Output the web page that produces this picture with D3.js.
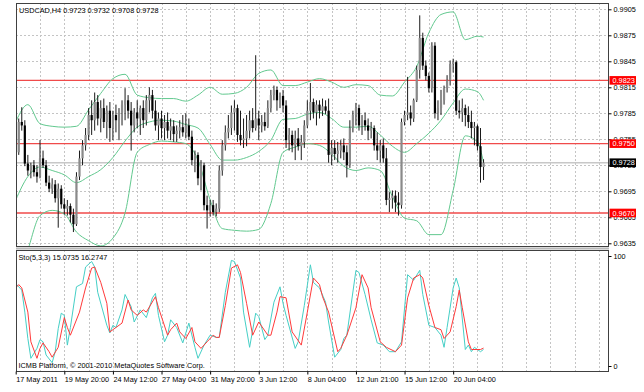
<!DOCTYPE html>
<html>
<head>
<meta charset="utf-8">
<script src="https://cdn.jsdelivr.net/npm/d3@7"></script>
<style>
body { margin: 0; background: #fff; }
svg text { font-family: "Liberation Sans", Arial, sans-serif; font-size: 7.3px; fill: #000; }
</style>
</head>
<body>
<div id="chart"></div>
<script>
// USDCAD H4 candles, one entry per bar
const openP = [
	0.9745,0.9740,0.9775,0.9771,0.9727,0.9719,0.9725,0.9717,0.9712,0.9733,
	0.9725,0.9705,0.9698,0.9703,0.9687,0.9698,0.9680,0.9675,0.9678,0.9668,
	0.9657,0.9712,0.9733,0.9748,0.9760,0.9783,0.9777,0.9798,0.9779,0.9791,
	0.9775,0.9788,0.9768,0.9783,0.9777,0.9786,0.9795,0.9800,0.9788,0.9771,
	0.9786,0.9779,0.9791,0.9777,0.9800,0.9806,0.9788,0.9771,0.9779,0.9768,
	0.9775,0.9765,0.9770,0.9761,0.9765,0.9769,0.9763,0.9771,0.9758,0.9731,
	0.9737,0.9710,0.9725,0.9679,0.9673,0.9679,0.9671,0.9675,0.9719,0.9748,
	0.9763,0.9768,0.9786,0.9791,0.9760,0.9754,0.9756,0.9765,0.9777,0.9768,
	0.9779,0.9771,0.9775,0.9770,0.9791,0.9806,0.9812,0.9800,0.9805,0.9794,
	0.9754,0.9760,0.9748,0.9756,0.9747,0.9752,0.9771,0.9788,0.9798,0.9786,
	0.9795,0.9788,0.9793,0.9788,0.9737,0.9745,0.9738,0.9742,0.9748,0.9740,
	0.9725,0.9768,0.9783,0.9791,0.9771,0.9777,0.9771,0.9765,0.9768,0.9748,
	0.9742,0.9748,0.9733,0.9685,0.9687,0.9690,0.9682,0.9679,0.9775,0.9783,
	0.9786,0.9779,0.9800,0.9835,0.9872,0.9840,0.9828,0.9814,0.9863,0.9785,
	0.9791,0.9800,0.9814,0.9823,0.9842,0.9844,0.9788,0.9786,0.9791,0.9783,
	0.9775,0.9768,0.9770,0.9747,0.9723
]
const highP = [
	0.9756,0.9779,0.9792,0.9777,0.9737,0.9728,0.9731,0.9725,0.9754,0.9742,
	0.9731,0.9713,0.9710,0.9708,0.9704,0.9702,0.9687,0.9685,0.9681,0.9675,
	0.9717,0.9742,0.9754,0.9768,0.9791,0.9800,0.9809,0.9806,0.9800,0.9802,
	0.9794,0.9798,0.9788,0.9795,0.9791,0.9800,0.9814,0.9806,0.9798,0.9791,
	0.9800,0.9794,0.9800,0.9806,0.9815,0.9812,0.9800,0.9786,0.9788,0.9783,
	0.9786,0.9779,0.9777,0.9771,0.9777,0.9783,0.9785,0.9779,0.9765,0.9742,
	0.9740,0.9731,0.9728,0.9690,0.9685,0.9685,0.9681,0.9725,0.9754,0.9771,
	0.9783,0.9794,0.9800,0.9795,0.9788,0.9779,0.9783,0.9788,0.9791,0.9852,
	0.9788,0.9783,0.9786,0.9800,0.9812,0.9817,0.9816,0.9809,0.9812,0.9800,
	0.9768,0.9765,0.9765,0.9768,0.9760,0.9777,0.9800,0.9820,0.9802,0.9800,
	0.9800,0.9802,0.9800,0.9802,0.9754,0.9754,0.9752,0.9754,0.9756,0.9748,
	0.9777,0.9788,0.9797,0.9795,0.9783,0.9786,0.9779,0.9775,0.9771,0.9763,
	0.9754,0.9756,0.9745,0.9694,0.9696,0.9696,0.9694,0.9779,0.9788,0.9827,
	0.9794,0.9802,0.9840,0.9898,0.9878,0.9846,0.9832,0.9867,0.9867,0.9800,
	0.9812,0.9817,0.9829,0.9846,0.9848,0.9846,0.9800,0.9802,0.9795,0.9793,
	0.9788,0.9775,0.9772,0.9768,0.9732
]
const lowP = [
	0.9731,0.9737,0.9765,0.9724,0.9713,0.9710,0.9712,0.9705,0.9710,0.9722,
	0.9701,0.9694,0.9692,0.9682,0.9653,0.9675,0.9668,0.9667,0.9659,0.9648,
	0.9655,0.9708,0.9725,0.9742,0.9754,0.9760,0.9765,0.9771,0.9763,0.9768,
	0.9756,0.9752,0.9754,0.9763,0.9754,0.9771,0.9777,0.9779,0.9742,0.9763,
	0.9768,0.9760,0.9768,0.9771,0.9786,0.9779,0.9765,0.9754,0.9756,0.9754,
	0.9756,0.9754,0.9752,0.9752,0.9756,0.9758,0.9756,0.9754,0.9725,0.9717,
	0.9702,0.9696,0.9673,0.9652,0.9666,0.9667,0.9666,0.9671,0.9713,0.9742,
	0.9756,0.9760,0.9765,0.9752,0.9748,0.9745,0.9747,0.9756,0.9763,0.9765,
	0.9754,0.9763,0.9765,0.9768,0.9786,0.9800,0.9788,0.9791,0.9786,0.9745,
	0.9742,0.9740,0.9731,0.9742,0.9731,0.9745,0.9768,0.9777,0.9779,0.9771,
	0.9779,0.9782,0.9784,0.9728,0.9725,0.9731,0.9728,0.9733,0.9731,0.9711,
	0.9722,0.9763,0.9771,0.9765,0.9760,0.9765,0.9754,0.9756,0.9742,0.9731,
	0.9728,0.9728,0.9679,0.9671,0.9675,0.9671,0.9667,0.9675,0.9771,0.9777,
	0.9771,0.9775,0.9798,0.9825,0.9835,0.9823,0.9809,0.9809,0.9779,0.9777,
	0.9783,0.9795,0.9809,0.9817,0.9832,0.9783,0.9779,0.9775,0.9770,0.9768,
	0.9756,0.9748,0.9742,0.9705,0.9708
]
const closeP = [
	0.9740,0.9775,0.9771,0.9727,0.9719,0.9725,0.9717,0.9712,0.9733,0.9725,
	0.9705,0.9698,0.9703,0.9687,0.9698,0.9680,0.9675,0.9678,0.9668,0.9657,
	0.9712,0.9733,0.9748,0.9760,0.9783,0.9777,0.9798,0.9779,0.9791,0.9775,
	0.9788,0.9768,0.9783,0.9777,0.9786,0.9795,0.9800,0.9788,0.9771,0.9786,
	0.9779,0.9791,0.9777,0.9800,0.9806,0.9788,0.9771,0.9779,0.9768,0.9775,
	0.9765,0.9770,0.9761,0.9765,0.9769,0.9763,0.9771,0.9758,0.9731,0.9737,
	0.9710,0.9725,0.9679,0.9673,0.9679,0.9671,0.9675,0.9719,0.9748,0.9763,
	0.9768,0.9786,0.9791,0.9760,0.9754,0.9756,0.9765,0.9777,0.9768,0.9779,
	0.9771,0.9775,0.9770,0.9791,0.9806,0.9812,0.9800,0.9805,0.9794,0.9754,
	0.9760,0.9748,0.9756,0.9747,0.9752,0.9771,0.9788,0.9798,0.9786,0.9795,
	0.9788,0.9793,0.9788,0.9737,0.9745,0.9738,0.9742,0.9748,0.9740,0.9725,
	0.9768,0.9783,0.9791,0.9771,0.9777,0.9771,0.9765,0.9768,0.9748,0.9742,
	0.9748,0.9733,0.9685,0.9687,0.9690,0.9682,0.9679,0.9775,0.9783,0.9786,
	0.9779,0.9800,0.9835,0.9872,0.9840,0.9828,0.9814,0.9863,0.9785,0.9791,
	0.9800,0.9814,0.9823,0.9842,0.9844,0.9788,0.9786,0.9791,0.9783,0.9775,
	0.9768,0.9770,0.9747,0.9723,0.9728
]

// Bollinger bands, read every 4 bars
const bandBars = [0,4,8,12,16,20,24,28,32,36,40,44,48,52,56,60,64,68,72,76,80,84,88,92,96,100,104,108,112,116,120,124,128,132,136,140,144,148,152,154]
const bandUpper = [0.9775,0.9795,0.9773,0.9770,0.9769,0.9770,0.9789,0.9808,0.9825,0.9830,
	0.9806,0.9803,0.9802,0.9802,0.9799,0.9806,0.9815,0.9807,0.9808,0.9815,
	0.9831,0.9835,0.9817,0.9817,0.9821,0.9825,0.9821,0.9815,0.9818,0.9817,
	0.9806,0.9805,0.9821,0.9839,0.9878,0.9899,0.9902,0.9870,0.9874,0.9873]
const bandMid = [0.9685,0.9712,0.9723,0.9719,0.9714,0.9705,0.9712,0.9720,0.9734,0.9753,
	0.9769,0.9775,0.9777,0.9776,0.9772,0.9768,0.9749,0.9731,0.9731,0.9734,
	0.9741,0.9754,0.9778,0.9779,0.9784,0.9786,0.9779,0.9769,0.9769,0.9770,
	0.9760,0.9747,0.9740,0.9750,0.9762,0.9777,0.9797,0.9813,0.9810,0.9800]
const bandLower = [0.9581,0.9627,0.9667,0.9673,0.9669,0.9648,0.9638,0.9632,0.9641,0.9670,
	0.9740,0.9749,0.9753,0.9752,0.9750,0.9731,0.9685,0.9652,0.9650,0.9649,
	0.9651,0.9681,0.9740,0.9746,0.9750,0.9748,0.9738,0.9724,0.9719,0.9722,
	0.9719,0.9689,0.9664,0.9661,0.9645,0.9645,0.9696,0.9759,0.9752,0.9728]

// Stochastic(5,3,3): main and signal, read at their turning points
const kBars = [0,1,2,3,4,5,7,8,9,10,12,13,14,15,16,17,18,20,22,23,
	25,26,27,30,31,32,33,35,36,38,39,41,43,45,46,47,49,50,51,53,
	55,57,59,60,62,64,66,67,69,71,72,74,75,77,79,80,82,83,85,87,
	88,89,92,93,95,97,98,100,102,103,105,107,108,109,112,113,115,117,119,121,
	123,125,127,129,131,133,134,136,138,140,141,142,144,145,146,148,149,150,151,152,
	153,154]
const kVals = [75,72,69,49,25,7,16,24,22,10,3,13,34,48,46,19,35,72,75,90,
	95,90,67,37,30,37,35,51,65,54,40,51,44,62,66,46,22,28,42,35,
	21,39,17,7,19,28,26,26,67,96,95,80,49,17,48,45,24,28,58,72,
	57,46,16,22,55,92,76,71,58,40,8,15,25,28,87,85,65,42,21,19,
	13,13,22,83,78,87,65,37,35,28,17,35,71,80,71,15,19,13,17,15,
	13,15.07]
const dBars = [0,1,2,4,5,7,8,9,11,12,14,16,17,18,21,23,25,26,28,30,
	31,33,35,37,38,40,42,43,46,47,50,51,53,54,56,58,59,61,63,65,
	66,67,69,71,73,74,76,78,80,83,84,86,87,89,91,94,96,98,100,101,
	103,106,107,109,112,114,116,117,120,122,125,127,129,131,133,134,136,138,140,141,
	143,145,146,147,149,150,153,154]
const dVals = [71,74,71,49,22,7,16,21,13,8,17,44,35,28,49,71,89,90,76,57,
	31,35,39,60,51,46,51,49,63,53,28,33,39,31,25,35,22,16,22,28,
	26,26,55,89,92,85,57,28,40,28,28,49,63,62,31,19,49,80,74,63,
	49,13,16,28,53,83,71,53,22,17,13,19,62,80,83,80,55,35,33,25,
	31,54,69,53,22,15,15,16.27]

const priceTicks = [0.9905,0.9875,0.9845,0.9815,0.9785,0.9755,0.9725,0.9695,0.9665,0.9635]
const timeTickBars = [0,16,32,48,64,80,96,112,128,144]
const timeTickLabels = ["17 May 2011","19 May 20:00","24 May 12:00","27 May 04:00","31 May 20:00",
	"3 Jun 12:00","8 Jun 04:00","12 Jun 21:00","15 Jun 12:00","20 Jun 04:00"]
const levelLines = [0.9823, 0.9750, 0.9670]
const bidPrice = 0.9728

const width = 644, height = 392
const main = {left: 16, right: 608, top: 3, bottom: 246}
const sub = {top: 250, bottom: 371}

const svg = d3.select("#chart").append("svg")
	.attr("width", width)
	.attr("height", height)

const x = d3.scaleLinear().domain([0, 195]).range([15.7, 608.1])
const y = d3.scaleLinear().domain([0.9635, 0.9905]).range([243.3, 9.3])
const ys = d3.scaleLinear().domain([0, 100]).range([366, 256])

const defs = svg.append("defs")
defs.append("clipPath").attr("id", "clipMain").append("rect")
	.attr("x", main.left).attr("y", main.top)
	.attr("width", main.right - main.left).attr("height", main.bottom - main.top)
defs.append("clipPath").attr("id", "clipSub").append("rect")
	.attr("x", main.left).attr("y", sub.top)
	.attr("width", main.right - main.left).attr("height", sub.bottom - sub.top)

// grid
const gridBars = d3.range(8, 195, 8)
const grid = svg.append("g")
	.attr("stroke", "#c4c4c4")
	.attr("stroke-dasharray", "2,2")
	.attr("stroke-width", 1)
grid.selectAll(".vm").data(gridBars).join("line")
	.attr("x1", d => Math.round(x(d)) + 0.5).attr("x2", d => Math.round(x(d)) + 0.5)
	.attr("y1", main.top).attr("y2", main.bottom)
grid.selectAll(".vs").data(gridBars).join("line")
	.attr("class", "vs")
	.attr("x1", d => Math.round(x(d)) + 0.5).attr("x2", d => Math.round(x(d)) + 0.5)
	.attr("y1", sub.top).attr("y2", sub.bottom)
grid.selectAll(".h").data(priceTicks).join("line")
	.attr("class", "h")
	.attr("x1", main.left).attr("x2", main.right)
	.attr("y1", d => Math.round(y(d)) + 0.5).attr("y2", d => Math.round(y(d)) + 0.5)

const plot = svg.append("g").attr("clip-path", "url(#clipMain)")

// bid line and level lines
plot.append("line")
	.attr("x1", main.left).attr("x2", main.right)
	.attr("y1", y(bidPrice)).attr("y2", y(bidPrice))
	.attr("stroke", "#c8c8c8").attr("stroke-width", 1.5)

plot.selectAll(".level").data(levelLines).join("line")
	.attr("class", "level")
	.attr("x1", main.left).attr("x2", main.right)
	.attr("y1", d => y(d)).attr("y2", d => y(d))
	.attr("stroke", "#f04a4a").attr("stroke-width", 1.4)

// bollinger bands
const bandLine = values => d3.line()
	.x((d, i) => x(d))
	.y((d, i) => y(values[i]))
	.curve(d3.curveMonotoneX)(bandBars)

plot.append("g")
	.attr("fill", "none")
	.attr("stroke", "#62c98f")
	.attr("stroke-width", 1)
	.selectAll("path")
	.data([bandUpper, bandMid, bandLower])
	.join("path")
	.attr("d", d => bandLine(d))

// candles
const bars = d3.range(closeP.length)
const candles = plot.append("g")
candles.selectAll("line").data(bars).join("line")
	.attr("x1", i => x(i)).attr("x2", i => x(i))
	.attr("y1", i => y(highP[i])).attr("y2", i => y(lowP[i]))
	.attr("stroke", "#1a1a1a").attr("stroke-width", 1)
candles.selectAll("rect").data(bars).join("rect")
	.attr("x", i => x(i) - 1.1)
	.attr("width", 2.2)
	.attr("y", i => y(Math.max(openP[i], closeP[i])))
	.attr("height", i => Math.max(1, Math.abs(y(openP[i]) - y(closeP[i]))))
	.attr("fill", i => closeP[i] >= openP[i] ? "#8a8a8a" : "#000")

// stochastic
const stoch = svg.append("g").attr("clip-path", "url(#clipSub)").attr("fill", "none")
const stochLine = (bs, vs) => d3.line()
	.x((d, i) => x(d))
	.y((d, i) => ys(vs[i]))(bs)
stoch.append("path")
	.attr("d", stochLine(kBars, kVals))
	.attr("stroke", "#45cfc6").attr("stroke-width", 1)
stoch.append("path")
	.attr("d", stochLine(dBars, dVals))
	.attr("stroke", "#ff3a3a").attr("stroke-width", 1)

// frames
const frame = svg.append("g").attr("fill", "none").attr("stroke", "#404040")
frame.append("rect")
	.attr("x", main.left + 0.5).attr("y", main.top + 0.5)
	.attr("width", main.right - main.left).attr("height", main.bottom - main.top)
frame.append("rect")
	.attr("x", main.left + 0.5).attr("y", sub.top + 0.5)
	.attr("width", main.right - main.left).attr("height", sub.bottom - sub.top)
svg.append("rect")
	.attr("x", main.left).attr("y", main.bottom + 1.5)
	.attr("width", main.right - main.left + 1).attr("height", 2)
	.attr("fill", "#b8b8b8")

// right price axis
const yAxis = svg.append("g")
	.attr("transform", `translate(${main.right + 0.5},0)`)
	.call(d3.axisRight(y).tickValues(priceTicks).tickSize(3).tickPadding(2).tickFormat(d3.format(".4f")))
yAxis.select(".domain").remove()

const sAxis = svg.append("g")
	.attr("transform", `translate(${main.right + 0.5},0)`)
	.call(d3.axisRight(ys).tickValues([0, 100]).tickSize(3).tickPadding(2))
sAxis.select(".domain").remove()

// time axis
const xAxis = svg.append("g")
	.attr("transform", `translate(0,${sub.bottom + 0.5})`)
	.call(d3.axisBottom(x).tickValues(timeTickBars).tickSize(3)
		.tickFormat((d, i) => timeTickLabels[i]))
xAxis.select(".domain").remove()
xAxis.selectAll(".tick text")
	.attr("text-anchor", "start")
	.attr("x", 0)
	.attr("y", 10)
	.attr("dy", 0)

// price labels on the axis
const tagData = levelLines.map(v => ({v: v, fill: "#ff0000"})).concat([{v: bidPrice, fill: "#000"}])
const tags = svg.append("g").selectAll("g").data(tagData).join("g")
	.attr("transform", d => `translate(609.5,${y(d.v)})`)
tags.append("rect")
	.attr("x", 0).attr("y", -4.3)
	.attr("width", 26.5).attr("height", 8.6)
	.attr("fill", d => d.fill)
tags.append("text")
	.attr("x", 3).attr("y", 2.6)
	.style("fill", "#fff")
	.text(d => d3.format(".4f")(d.v))

// texts
svg.append("text").attr("x", 19).attr("y", 12.5)
	.text("USDCAD,H4  0.9723 0.9732 0.9708 0.9728")
svg.append("text").attr("x", 18.5).attr("y", 260.3)
	.text("Sto(5,3,3) 15.0735 16.2747")
svg.append("text").attr("x", 18.5).attr("y", 367.6)
	.text("ICMB Platform, \u00a9 2001-2010 MetaQuotes Software Corp.")
</script>
</body>
</html>
